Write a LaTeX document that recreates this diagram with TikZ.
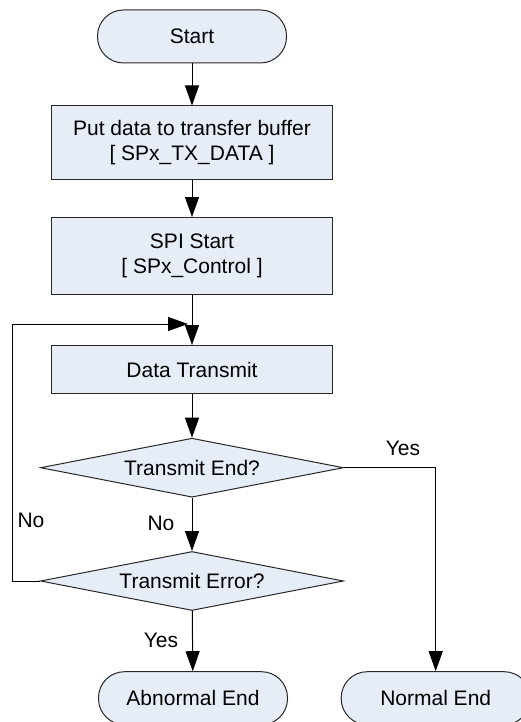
\documentclass[tikz,border=0pt]{standalone}
\usepackage{fontspec}
\setmainfont{Liberation Sans}
\usepackage{tikz}
\usetikzlibrary{shapes, arrows.meta, positioning, calc}
\definecolor{boxfill}{RGB}{231, 237, 247}
\definecolor{lineclr}{RGB}{40, 40, 40}
\tikzset{
  base/.style={draw=lineclr, fill=boxfill, line width=1pt, align=center, inner sep=0pt},
  terminal/.style={base, rounded corners=26pt, minimum width=189pt, minimum height=53pt},
  procbox/.style={base, minimum width=281pt},
  decision/.style={base, diamond, aspect=5, minimum width=303pt, minimum height=59pt},
  flow/.style={draw=black, line width=1pt, -{Triangle[length=20pt, width=14pt]}},
  answer/.style={font=\fontsize{21}{25}\selectfont}
}

\begin{document}
\begin{tikzpicture}[x=1pt, y=-1pt, font=\fontsize{21}{25}\selectfont]
  \useasboundingbox (0, 0) rectangle (520, 722);

  % Start
  \node[terminal] (start) at (192, 36.5) {Start};

  % Setup steps
  \node[procbox, minimum height=74pt] (buffer) at (192, 143) {Put data to transfer buffer\\{[} SPx\_TX\_DATA ]};
  \node[procbox, minimum height=77pt] (spistart) at (192, 256) {SPI Start\\{[} SPx\_Control ]};
  \node[procbox, minimum height=48pt] (transmit) at (192, 369.5) {Data Transmit};

  % Decisions
  \node[decision] (endq) at (192, 467.7) {Transmit End?};
  \node[decision] (errq) at (192, 581) {Transmit Error?};

  % End states
  \node[terminal] (abnormal) at (193, 698.2) {Abnormal End};
  \node[terminal] (normal) at (435.7, 698.2) {Normal End};

  % Loop back corner points
  \coordinate (loopleft) at (12, 324);
  \coordinate (loopin) at (188, 324);

  \draw[flow] (start) -- (buffer);
  \draw[flow] (buffer) -- (spistart);
  \draw[flow] (spistart) -- (transmit);
  \draw[flow] (transmit) -- (endq);
  \draw[flow] (endq) -- (errq);
  \draw[flow] (errq) -- (abnormal);
  \draw[flow] (endq.east) -| (normal.north);
  \draw[flow] (errq.west) -| (loopleft) -- (loopin);

  % Branch labels
  \node[answer] (yesend) at (403, 448) {Yes};
  \node[answer] (noloop) at (31, 520) {No};
  \node[answer] (noend) at (161, 523) {No};
  \node[answer] (yeserr) at (161, 640) {Yes};
\end{tikzpicture}
\end{document}
